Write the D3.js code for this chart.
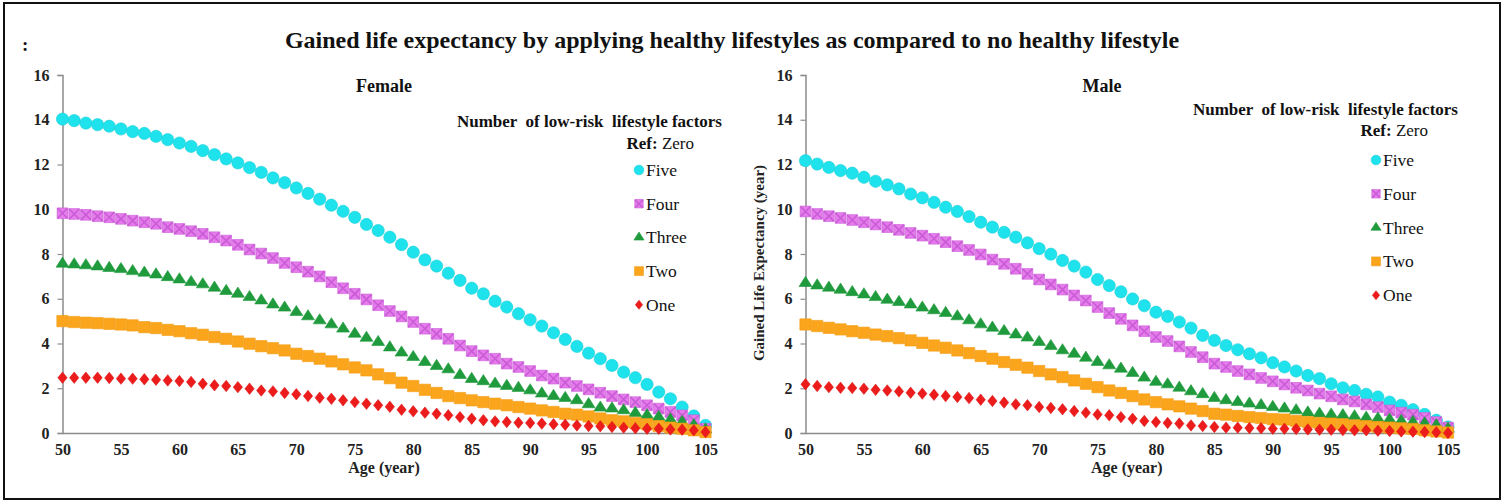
<!DOCTYPE html>
<html>
<head>
<meta charset="utf-8">
<script src="https://cdn.jsdelivr.net/npm/d3@7"></script>
<style>
	body { margin: 0; background: #fff; }
	svg text { font-family: "Liberation Serif", "Times New Roman", serif; }
</style>
</head>
<body>
<div id="chartbox"></div>
<script>

var AGES = [50, 51, 52, 53, 54, 55, 56, 57, 58, 59, 60, 61, 62, 63, 64, 65, 66, 67, 68, 69,
	70, 71, 72, 73, 74, 75, 76, 77, 78, 79, 80, 81, 82, 83, 84, 85, 86, 87, 88, 89,
	90, 91, 92, 93, 94, 95, 96, 97, 98, 99, 100, 101, 102, 103, 104, 105];
var X_TICKS = [50, 55, 60, 65, 70, 75, 80, 85, 90, 95, 100, 105];
var Y_TICKS = [0, 2, 4, 6, 8, 10, 12, 14, 16];
var SERIES_NAMES = ["Five", "Four", "Three", "Two", "One"];

var femaleFive = [14.03, 13.96, 13.85, 13.78, 13.71, 13.59, 13.47, 13.39, 13.26, 13.11, 12.96, 12.81, 12.62, 12.44, 12.25,
	12.07, 11.86, 11.65, 11.40, 11.19, 10.95, 10.71, 10.45, 10.18, 9.91, 9.64, 9.32, 9.05, 8.75,
	8.42, 8.08, 7.74, 7.46, 7.14, 6.82, 6.47, 6.22, 5.89, 5.63, 5.33, 5.06, 4.78, 4.48, 4.18,
	3.87, 3.57, 3.32, 3.02, 2.72, 2.47, 2.17, 1.83, 1.53, 1.16, 0.76, 0.34];
var femaleFour = [9.82, 9.79, 9.75, 9.69, 9.64, 9.57, 9.49, 9.42, 9.35, 9.20, 9.12, 9.02, 8.90, 8.75, 8.60,
	8.41, 8.20, 8.02, 7.82, 7.60, 7.41, 7.21, 7.00, 6.74, 6.47, 6.22, 5.97, 5.71, 5.45,
	5.21, 4.96, 4.66, 4.43, 4.21, 3.91, 3.66, 3.47, 3.32, 3.10, 2.95, 2.77, 2.57, 2.43, 2.25,
	2.10, 1.95, 1.80, 1.65, 1.50, 1.38, 1.24, 1.09, 0.94, 0.79, 0.57, 0.19];
var femaleThree = [7.56, 7.53, 7.49, 7.44, 7.37, 7.32, 7.23, 7.16, 7.08, 6.96, 6.86, 6.74, 6.64, 6.49, 6.34,
	6.22, 6.07, 5.92, 5.74, 5.60, 5.40, 5.21, 5.03, 4.85, 4.66, 4.43, 4.25, 4.06, 3.82,
	3.59, 3.39, 3.17, 2.99, 2.84, 2.59, 2.41, 2.31, 2.20, 2.10, 2.01, 1.90, 1.76, 1.65, 1.56,
	1.46, 1.28, 1.13, 1.09, 1.01, 0.89, 0.79, 0.71, 0.60, 0.49, 0.34, 0.15];
var femaleTwo = [5.00, 4.96, 4.93, 4.91, 4.88, 4.85, 4.81, 4.73, 4.69, 4.61, 4.55, 4.46, 4.39, 4.29, 4.21,
	4.09, 3.99, 3.88, 3.79, 3.69, 3.54, 3.44, 3.32, 3.20, 3.07, 2.93, 2.80, 2.62, 2.45,
	2.25, 2.10, 1.93, 1.79, 1.65, 1.56, 1.46, 1.38, 1.31, 1.24, 1.16, 1.09, 1.01, 0.94, 0.86,
	0.82, 0.74, 0.65, 0.57, 0.52, 0.45, 0.39, 0.31, 0.24, 0.19, 0.12, 0.04];
var femaleOne = [2.47, 2.47, 2.47, 2.47, 2.46, 2.43, 2.43, 2.40, 2.38, 2.35, 2.32, 2.28, 2.20, 2.13, 2.10,
	2.05, 1.98, 1.90, 1.86, 1.79, 1.73, 1.65, 1.58, 1.53, 1.46, 1.38, 1.31, 1.24, 1.17,
	1.04, 0.97, 0.91, 0.86, 0.79, 0.71, 0.64, 0.57, 0.52, 0.49, 0.46, 0.45, 0.42, 0.39, 0.37,
	0.34, 0.31, 0.30, 0.27, 0.24, 0.21, 0.19, 0.19, 0.16, 0.15, 0.12, 0.04];

var maleFive = [12.17, 12.02, 11.87, 11.73, 11.61, 11.43, 11.25, 11.09, 10.91, 10.68, 10.51, 10.31, 10.09, 9.90,
	9.67, 9.42, 9.20, 8.97, 8.75, 8.50, 8.24, 7.99, 7.71, 7.46, 7.19, 6.86, 6.59, 6.31,
	5.99, 5.69, 5.40, 5.21, 4.96, 4.69, 4.36, 4.14, 3.91, 3.72, 3.54, 3.36, 3.14, 2.95,
	2.77, 2.57, 2.43, 2.20, 2.02, 1.90, 1.73, 1.61, 1.38, 1.24, 1.04, 0.83, 0.57, 0.27];
var maleFour = [9.90, 9.79, 9.69, 9.61, 9.52, 9.42, 9.32, 9.20, 9.08, 8.94, 8.82, 8.68, 8.53, 8.35,
	8.18, 7.98, 7.75, 7.56, 7.34, 7.11, 6.86, 6.64, 6.41, 6.15, 5.92, 5.63, 5.36, 5.10,
	4.81, 4.55, 4.29, 4.11, 3.87, 3.62, 3.39, 3.10, 2.95, 2.77, 2.62, 2.46, 2.31, 2.17,
	2.02, 1.90, 1.76, 1.64, 1.50, 1.41, 1.28, 1.16, 1.01, 0.91, 0.82, 0.68, 0.49, 0.24];
var maleThree = [6.70, 6.59, 6.49, 6.40, 6.29, 6.19, 6.07, 5.95, 5.85, 5.74, 5.60, 5.48, 5.36, 5.21,
	5.03, 4.85, 4.70, 4.55, 4.40, 4.26, 4.06, 3.88, 3.69, 3.54, 3.36, 3.17, 3.02, 2.87,
	2.68, 2.47, 2.28, 2.17, 2.02, 1.86, 1.73, 1.56, 1.46, 1.38, 1.31, 1.24, 1.16, 1.09,
	1.01, 0.91, 0.86, 0.82, 0.79, 0.74, 0.68, 0.64, 0.60, 0.54, 0.49, 0.42, 0.34, 0.19];
var maleTwo = [4.85, 4.78, 4.70, 4.63, 4.55, 4.48, 4.40, 4.33, 4.24, 4.14, 4.03, 3.91, 3.81, 3.69,
	3.57, 3.44, 3.32, 3.17, 3.05, 2.92, 2.77, 2.62, 2.50, 2.35, 2.20, 2.05, 1.90, 1.79,
	1.65, 1.50, 1.38, 1.28, 1.19, 1.09, 0.98, 0.86, 0.82, 0.76, 0.71, 0.67, 0.62, 0.60,
	0.54, 0.49, 0.45, 0.42, 0.39, 0.34, 0.31, 0.27, 0.24, 0.21, 0.18, 0.12, 0.07, 0.02];
var maleOne = [2.18, 2.10, 2.05, 2.02, 2.01, 1.98, 1.93, 1.90, 1.86, 1.80, 1.76, 1.71, 1.65, 1.61,
	1.56, 1.49, 1.43, 1.36, 1.28, 1.24, 1.16, 1.12, 1.06, 0.98, 0.91, 0.83, 0.79, 0.71,
	0.64, 0.54, 0.49, 0.45, 0.42, 0.34, 0.31, 0.27, 0.24, 0.24, 0.22, 0.21, 0.19, 0.19,
	0.18, 0.16, 0.15, 0.15, 0.13, 0.12, 0.12, 0.10, 0.09, 0.07, 0.06, 0.04, 0.03, 0.00];

var AXIS_COLOR = "#8c8c8c";
var TEXT_COLOR = "#222";

// marker look per series, same order as SERIES_NAMES
var markers = [
	{ type: d3.symbolCircle, size: 118, fill: "#1fe3ec", stroke: "#19cfd8", sx: 1, sy: 1 },
	{ type: d3.symbolSquare, size: 115, fill: "#e67cec", stroke: "#c95cd6", sx: 1, sy: 1, cross: 5 },
	{ type: d3.symbolTriangle, size: 66, fill: "#1f9a3c", stroke: "#1f9a3c", sx: 1.05, sy: 0.95 },
	{ type: d3.symbolSquare, size: 128, fill: "#fba51c", stroke: "#f49c12", sx: 1, sy: 1 },
	{ type: d3.symbolDiamond2, size: 76, fill: "#ec1c1c", stroke: "#e01515", sx: 0.85, sy: 1.05 }
];

var svg = d3.select("#chartbox").append("svg")
	.attr("width", 1506)
	.attr("height", 503);

svg.append("rect")
	.attr("width", 1506)
	.attr("height", 503)
	.attr("fill", "#fff");

// outer frame
svg.append("rect")
	.attr("x", 4)
	.attr("y", 3)
	.attr("width", 1496)
	.attr("height", 496)
	.attr("fill", "none")
	.attr("stroke", "#111")
	.attr("stroke-width", 2);

// stray glyph left over at the top-left corner
svg.append("text")
	.attr("x", 22)
	.attr("y", 51)
	.attr("font-size", 19)
	.attr("font-weight", "bold")
	.attr("fill", "#111")
	.text(":");

svg.append("text")
	.attr("x", 732)
	.attr("y", 48)
	.attr("text-anchor", "middle")
	.attr("font-size", 24)
	.attr("font-weight", "bold")
	.attr("fill", "#111")
	.text("Gained life expectancy by applying healthy lifestyles as compared to no healthy lifestyle");

function drawMarker(sel, m) {
	sel.append("path")
		.attr("d", d3.symbol(m.type, m.size)())
		.attr("transform", "scale(" + m.sx + "," + m.sy + ")")
		.attr("fill", m.fill)
		.attr("stroke", m.stroke)
		.attr("stroke-width", 0.6);
	if (m.cross) {
		var c = m.cross;
		sel.append("path")
			.attr("d", "M" + (-c) + "," + (-c) + "L" + c + "," + c + "M" + c + "," + (-c) + "L" + (-c) + "," + c)
			.attr("stroke", m.stroke)
			.attr("stroke-width", 1.6);
	}
}

function drawPanel(p) {

	var x = d3.scaleLinear().domain([50, 105]).range([p.left, p.right]);
	var y = d3.scaleLinear().domain([0, 16]).range([433, 75]);

	var g = svg.append("g");

	// y axis
	var yAxis = d3.axisLeft(y).tickValues(Y_TICKS).tickSize(5).tickPadding(8);
	var ya = g.append("g")
		.attr("transform", "translate(" + p.left + ",0)")
		.call(yAxis);
	ya.select(".domain").attr("stroke", AXIS_COLOR).attr("stroke-width", 1.5);
	ya.selectAll(".tick line").attr("stroke", AXIS_COLOR).attr("stroke-width", 1.2);
	ya.selectAll(".tick text")
		.attr("font-family", "Liberation Serif, serif")
		.attr("font-size", 16)
		.attr("font-weight", "bold")
		.attr("fill", TEXT_COLOR);

	// x axis, no tick marks
	var xAxis = d3.axisBottom(x).tickValues(X_TICKS).tickSize(0).tickPadding(11);
	var xa = g.append("g")
		.attr("transform", "translate(0," + y(0) + ")")
		.call(xAxis);
	xa.select(".domain").attr("stroke", AXIS_COLOR).attr("stroke-width", 1.5);
	xa.selectAll(".tick text")
		.attr("font-family", "Liberation Serif, serif")
		.attr("font-size", 16)
		.attr("font-weight", "bold")
		.attr("fill", TEXT_COLOR);

	g.append("text")
		.attr("x", (p.left + p.right) / 2)
		.attr("y", 473)
		.attr("text-anchor", "middle")
		.attr("font-size", 16)
		.attr("font-weight", "bold")
		.attr("fill", TEXT_COLOR)
		.text("Age (year)");

	g.append("text")
		.attr("x", p.titleX)
		.attr("y", 92)
		.attr("text-anchor", "middle")
		.attr("font-size", 18)
		.attr("font-weight", "bold")
		.attr("fill", "#111")
		.text(p.title);

	if (p.yLabel) {
		g.append("text")
			.attr("transform", "translate(" + p.yLabelX + ",263) rotate(-90)")
			.attr("text-anchor", "middle")
			.attr("font-size", 15)
			.attr("font-weight", "bold")
			.attr("fill", TEXT_COLOR)
			.text(p.yLabel);
	}

	// points, Five first so One ends up on top
	p.series.forEach(function (values, si) {
		var m = markers[si];
		g.append("g")
			.selectAll("g")
			.data(values)
			.enter().append("g")
			.attr("transform", function (d, i) {
				return "translate(" + x(AGES[i]) + "," + y(d) + ")";
			})
			.each(function () {
				drawMarker(d3.select(this), m);
			});
	});

	// legend
	var lg = g.append("g");
	lg.append("text")
		.attr("x", p.legendRight)
		.attr("y", p.legendTop)
		.attr("text-anchor", "end")
		.attr("font-size", 17)
		.attr("font-weight", "bold")
		.attr("fill", "#111")
		.attr("xml:space", "preserve")
		.text("Number  of low-risk  lifestyle factors");

	var ref = lg.append("text")
		.attr("x", p.refRight)
		.attr("y", p.legendTop + p.refGap)
		.attr("text-anchor", "end")
		.attr("font-size", 17)
		.attr("fill", "#111");
	ref.append("tspan").attr("font-weight", "bold").text("Ref:");
	ref.append("tspan").text(" Zero");

	SERIES_NAMES.forEach(function (name, si) {
		var item = lg.append("g")
			.attr("transform", "translate(" + p.markerX + "," + (p.itemTop + si * p.itemStep) + ")");
		drawMarker(item, {
			type: markers[si].type,
			size: markers[si].size * 0.62,
			fill: markers[si].fill,
			stroke: markers[si].stroke,
			sx: markers[si].sx,
			sy: markers[si].sy,
			cross: markers[si].cross ? 4 : 0
		});
		item.append("text")
			.attr("x", 7)
			.attr("y", 6)
			.attr("font-size", 17.5)
			.attr("fill", "#111")
			.text(name);
	});
}

drawPanel({
	title: "Female",
	titleX: 384,
	left: 62.5,
	right: 705.5,
	series: [femaleFive, femaleFour, femaleThree, femaleTwo, femaleOne],
	legendRight: 722,
	legendTop: 127,
	refRight: 694,
	refGap: 22,
	markerX: 639,
	itemTop: 170,
	itemStep: 33.7
});

drawPanel({
	title: "Male",
	titleX: 1102,
	left: 805.5,
	right: 1448,
	yLabel: "Gained Life Expectancy (year)",
	yLabelX: 764,
	series: [maleFive, maleFour, maleThree, maleTwo, maleOne],
	legendRight: 1458,
	legendTop: 115,
	refRight: 1428,
	refGap: 21,
	markerX: 1376,
	itemTop: 160,
	itemStep: 33.8
});

</script>
</body>
</html>
